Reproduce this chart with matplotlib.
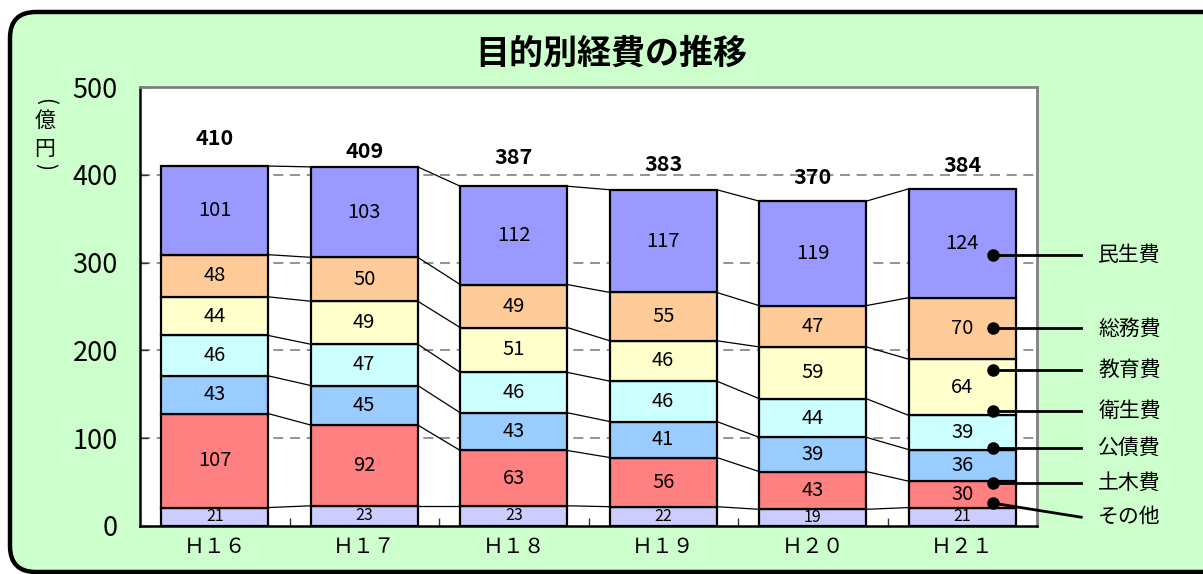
import matplotlib
matplotlib.use("Agg")
import matplotlib.pyplot as plt
import numpy as np
from matplotlib.patches import FancyBboxPatch
from matplotlib.transforms import IdentityTransform

# 年度
years = ["Ｈ１６", "Ｈ１７", "Ｈ１８", "Ｈ１９", "Ｈ２０", "Ｈ２１"]

# 目的別経費（億円）, 下から順に積み上げ
items = ["その他", "土木費", "公債費", "衛生費", "教育費", "総務費", "民生費"]
sonota = [21, 23, 23, 22, 19, 21]
doboku = [107, 92, 63, 56, 43, 30]
kousai = [43, 45, 43, 41, 39, 36]
eisei = [46, 47, 46, 46, 44, 39]
kyouiku = [44, 49, 51, 46, 59, 64]
soumu = [48, 50, 49, 55, 47, 70]
minsei = [101, 103, 112, 117, 119, 124]
totals = [410, 409, 387, 383, 370, 384]

colors = ["#CCCCFF", "#FF8080", "#99CCFF", "#CCFFFF", "#FFFFCC", "#FFCC99", "#9999FF"]

# 凡例の引き出し線の高さ（データ座標）
callout_dot_y = [26, 49, 89, 131, 178, 225, 309]
callout_txt_y = [10, 49, 89, 131, 178, 225, 309]
# 合計ラベルの持ち上げ量（pt）
total_offsets = [20, 11, 21, 18, 17, 17]

JP = ["Noto Sans CJK JP", "DejaVu Sans"]
plt.rcParams["font.family"] = JP

fig = plt.figure(figsize=(12.03, 5.74), dpi=100)
fig.patch.set_facecolor("white")

# 角丸の枠
frame = FancyBboxPatch((10, 2), 1260, 560, boxstyle="round,pad=0,rounding_size=26",
                       transform=IdentityTransform(), facecolor="#CCFFCC",
                       edgecolor="black", linewidth=3.2, zorder=0)
fig.add_artist(frame)

ax = fig.add_axes([140 / 1203, 48 / 574, 897 / 1203, 439 / 574])
ax.set_facecolor("white")

series = [sonota, doboku, kousai, eisei, kyouiku, soumu, minsei]
x = np.arange(len(years))
w = 0.716
bottom = np.zeros(len(years))
tops = []
for vals, col, name in zip(series, colors, items):
    vals = np.array(vals)
    ax.bar(x, vals, w, bottom=bottom, color=col, edgecolor="black",
           linewidth=1.6, zorder=3)
    for xi, b, v in zip(x, bottom, vals):
        fs = 11.5 if name == "その他" else 14.5
        ax.text(xi, b + v / 2, str(v), ha="center", va="center",
                fontsize=fs, zorder=4)
    bottom = bottom + vals
    tops.append(bottom.copy())

# 区分線
for t in tops:
    for i in range(len(years) - 1):
        ax.plot([x[i] + w / 2, x[i + 1] - w / 2], [t[i], t[i + 1]],
                color="black", linewidth=0.9, zorder=2)

# 合計
for xi, tot, off in zip(x, totals, total_offsets):
    ax.annotate(str(tot), (xi, tot), xytext=(0, off), textcoords="offset points",
                ha="center", va="center", fontsize=15.5, fontweight="bold",
                zorder=5)

ax.set_xlim(-0.5, len(years) - 0.5)
ax.set_ylim(0, 500)
ax.set_yticks([0, 100, 200, 300, 400, 500])
ax.set_yticklabels(["0", "100", "200", "300", "400", "500"], fontsize=19.5)
ax.tick_params(axis="y", direction="in", length=6, width=1, color="#333333", pad=16)
ax.set_xticks(x)
ax.set_xticklabels(years, fontsize=15)
ax.tick_params(axis="x", length=0, pad=7)
ax.set_xticks(np.arange(0.5, len(years) - 1, 1), minor=True)
ax.tick_params(axis="x", which="minor", direction="in", length=6, width=1, color="#333333")

for yv in [100, 200, 300, 400]:
    ax.axhline(yv, color="#808080", linewidth=1.2, linestyle=(0, (6, 4)), zorder=1)

for s in ["top", "right"]:
    ax.spines[s].set_color("#808080")
    ax.spines[s].set_linewidth(2)
for s in ["left", "bottom"]:
    ax.spines[s].set_color("black")
    ax.spines[s].set_linewidth(1.8)

# 凡例（引き出し線）
last = len(years) - 1
for name, dy, ty in zip(items, callout_dot_y, callout_txt_y):
    ax.plot([last + 0.207, last + 0.796], [dy, ty], color="black", linewidth=2,
            zorder=6, clip_on=False)
    ax.plot(last + 0.207, dy, "o", color="black", markersize=8, zorder=7, clip_on=False)
    ax.text(last + 0.91, ty, name, ha="left", va="center", fontsize=15,
            clip_on=False)

fig.text(0.508, 0.908, "目的別経費の推移", ha="center", va="center",
         fontsize=24.5, fontweight="bold")

# 縦書きの単位（括弧は横倒し）
for ch, py, rot in zip(["(", "億", "円", ")"], [101, 121, 149, 166], [-90, 0, 0, -90]):
    fig.text(45 / 1203, 1 - py / 574, ch, ha="center", va="center",
             fontsize=15, rotation=rot, rotation_mode="anchor")

fig.savefig("out.png", dpi=100)
